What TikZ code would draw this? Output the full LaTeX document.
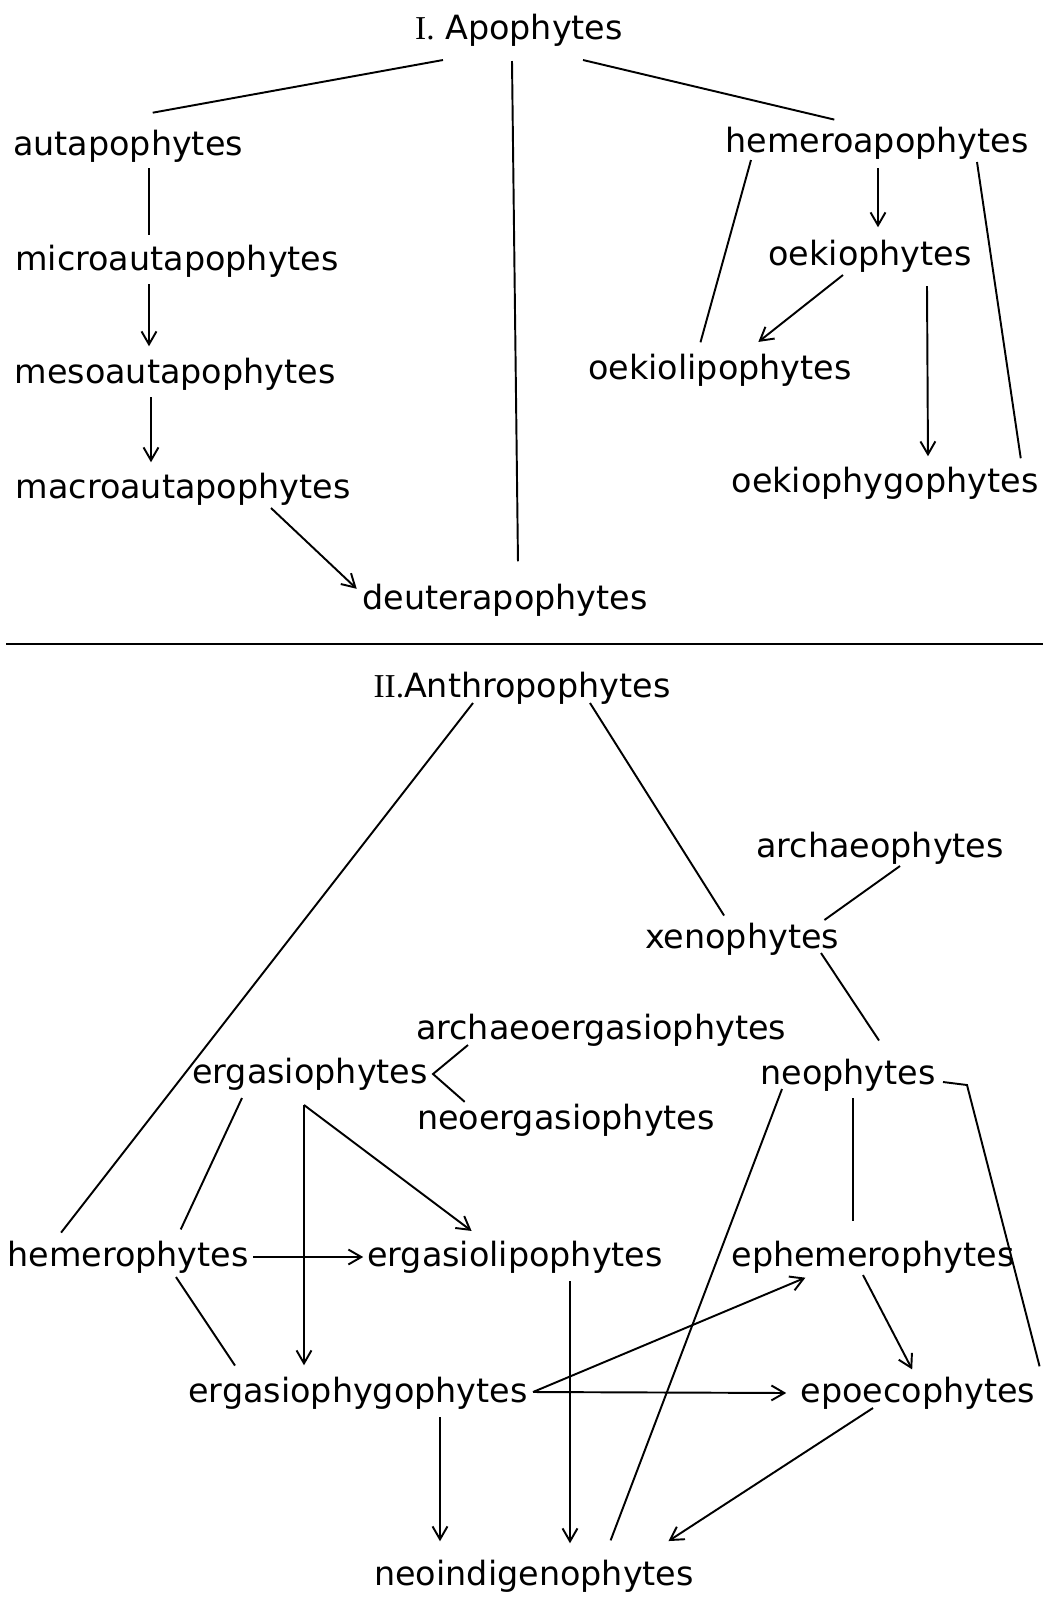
\documentclass[tikz,border=0pt]{standalone}
\usepackage{fontspec}
\setmainfont{DejaVu Sans}
\newfontfamily\numfont{Liberation Serif}
\usetikzlibrary{arrows.meta,calc}
\tikzset{>={Straight Barb[angle=60:8.5pt]},shorten >=1pt}
\tikzset{taxon/.style={inner sep=0pt,text depth=0pt,font=\fontsize{19}{22}\selectfont}}

\begin{document}
\begin{tikzpicture}[x=0.02cm,y=-0.02cm,line width=1.1pt,every node/.style={taxon}]
\useasboundingbox (0,0) rectangle (1053,1597);
% I. Apophytes
\node (apo) at (519,27)  {{\numfont I.} Apophytes};
\node (aut) at (128,143) {autapophytes};
\node (mic) at (177,258) {microautapophytes};
\node (mes) at (175,371) {mesoautapophytes};
\node (mac) at (183,486) {macroautapophytes};
\node (deu) at (505,597) {deuterapophytes};
\node (hem) at (877,140) {hemeroapophytes};
\node (oek) at (870,253) {oekiophytes};
\node (oel) at (720,367) {oekiolipophytes};
\node (oeg) at (885,480) {oekiophygophytes};
\path
    ($(apo)+(-76,33)$) edge ($(aut)+(23,-30)$)
    ($(apo)+(-7,34)$)  edge ($(deu)+(13,-34)$)
    ($(apo)+(64,33)$)  edge ($(hem)+(-41,-20)$)
    ($(aut)+(21,25)$)  edge ($(mic)+(-28,-21)$)
    ($(hem)+(-126,20)$) edge ($(oel)+(-20,-23)$)
    ($(hem)+(100,22)$) edge ($(oeg)+(136,-20)$)
;
\path[->]
    ($(mic)+(-28,26)$) edge ($(mes)+(-26,-23)$)
    ($(mes)+(-24,26)$) edge ($(mac)+(-32,-22)$)
    ($(mac)+(88,22)$)  edge ($(deu)+(-147,-7)$)
    ($(hem)+(1,28)$)   edge ($(oek)+(8,-24)$)
    ($(oek)+(-27,22)$) edge ($(oel)+(37,-24)$)
    ($(oek)+(57,33)$)  edge ($(oeg)+(43,-22)$)
;
\draw (6,644) -- (1045,644);
% II. Anthropophytes
\node (ant) at (522,685)  {{\numfont II.}Anthropophytes};
\node (arc) at (880,845)  {archaeophytes};
\node (xen) at (742,936)  {xenophytes};
\node (aer) at (601,1027) {archaeoergasiophytes};
\node (erg) at (310,1071) {ergasiophytes};
\node (ner) at (566,1117) {neoergasiophytes};
\node (neo) at (848,1072) {neophytes};
\node (hmp) at (128,1254) {hemerophytes};
\node (elp) at (515,1254) {ergasiolipophytes};
\node (eph) at (873,1254) {ephemerophytes};
\node (egp) at (358,1390) {ergasiophygophytes};
\node (epo) at (918,1390) {epoecophytes};
\node (nid) at (534,1573) {neoindigenophytes};
\path
    ($(ant)+(-49,18)$) edge ($(hmp)+(-68,-20)$)
    ($(ant)+(68,18)$)  edge ($(xen)+(-17,-19)$)
    ($(arc)+(20,21)$)  edge ($(xen)+(81,-15)$)
    ($(xen)+(79,17)$)  edge ($(neo)+(32,-30)$)
    ($(erg)+(-68,27)$) edge ($(hmp)+(52,-23)$)
    ($(hmp)+(48,23)$)  edge ($(egp)+(-122,-23)$)
    ($(neo)+(-66,17)$) edge ($(nid)+(76,-31)$)
    ($(neo)+(5,26)$)   edge ($(eph)+(-20,-31)$)
;
\draw ($(aer)+(-133,18)$) -- ($(erg)+(123,3)$) -- ($(ner)+(-100,-14)$);
\draw ($(neo)+(95,10)$) -- ($(neo)+(119,13)$) -- ($(epo)+(122,-22)$);
\path[->]
    ($(hmp)+(125,3)$)  edge ($(elp)+(-150,3)$)
    ($(erg)+(-6,34)$)  edge ($(egp)+(-54,-23)$)
    ($(erg)+(-6,34)$)  edge ($(elp)+(-42,-22)$)
    ($(elp)+(55,27)$)  edge ($(nid)+(36,-28)$)
    ($(egp)+(82,27)$)  edge ($(nid)+(-94,-30)$)
    ($(egp)+(175,2)$)  edge ($(eph)+(-66,23)$)
    ($(egp)+(175,2)$)  edge ($(epo)+(-130,3)$)
    ($(eph)+(-10,21)$) edge ($(epo)+(-5,-19)$)
    ($(epo)+(-45,18)$) edge ($(nid)+(133,-31)$)
;
\end{tikzpicture}
\end{document}
